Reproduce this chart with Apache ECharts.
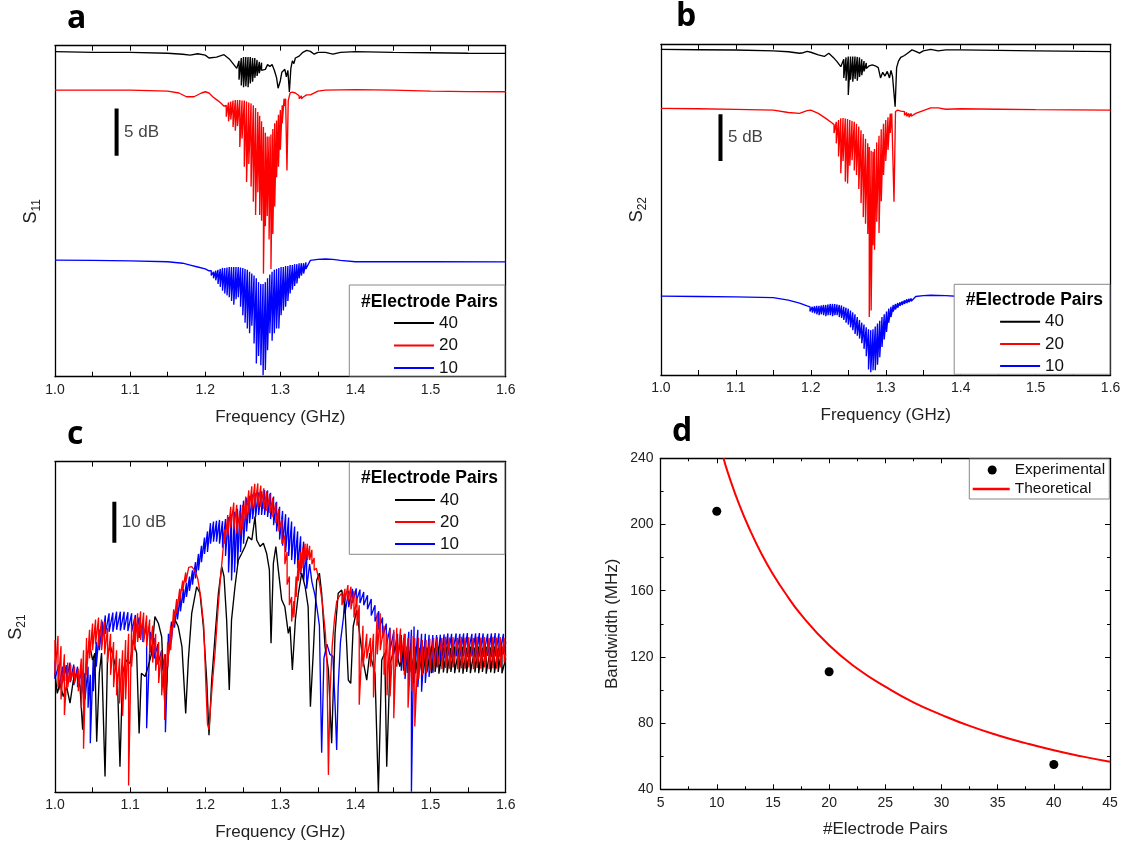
<!DOCTYPE html>
<html>
<head>
<meta charset="utf-8">
<script src="https://cdn.jsdelivr.net/npm/echarts@6/dist/echarts.min.js"></script>
<style>html,body{margin:0;padding:0;background:#fff}#chart{width:1125px;height:847px}</style>
</head>
<body>
<div id="chart"></div>
<script>
// ---------------- DATA (relative dB levels) ----------------
// entries: [freq GHz, level] or [freq GHz, ripple top, ripple bottom]
const seriesNames = ['40', '20', '10'];
const a40 = [[1.00,-0.63],[1.05,-0.7],[1.10,-0.7],[1.15,-0.8],[1.17,-0.9],[1.18,-1.0],[1.19,-0.85],[1.20,-1.0],[1.205,-1.3],[1.215,-1.2],[1.225,-0.95],[1.232,-1.4],[1.237,-1.9],[1.242,-2.4],
[1.245,-1.6,-3.6],[1.248,-1.3,-4.2],[1.251,-1.2,-4.4],[1.254,-1.2,-4.3],[1.257,-1.2,-4.4],[1.260,-1.2,-4.0],[1.263,-1.3,-3.8],[1.266,-1.3,-3.4],[1.269,-1.5,-3.2],[1.272,-1.7,-2.9],[1.275,-1.8,-2.6],
[1.28,-2.5],[1.283,-2.0],[1.286,-2.2],[1.289,-2.0],[1.292,-2.6],[1.295,-3.4],[1.297,-4.5],[1.300,-3.7],[1.302,-2.8],[1.304,-3.0],[1.306,-2.5],[1.308,-3.3],[1.310,-2.6],[1.312,-4.9],[1.314,-2.4],[1.316,-1.6],[1.318,-1.9],[1.32,-1.3],[1.325,-1.1],[1.33,-0.7],[1.335,-0.5],[1.34,-0.6],[1.345,-0.9],[1.35,-0.7],[1.36,-0.7],[1.37,-0.9],[1.38,-0.7],[1.40,-0.63],[1.45,-0.7],[1.50,-0.75],[1.55,-0.8],[1.60,-0.81]];
const a20 = [[1.00,-4.69],[1.05,-4.7],[1.10,-4.69],[1.15,-4.8],[1.165,-5.0],[1.175,-5.4],[1.185,-5.4],[1.195,-5.0],[1.20,-4.87],[1.205,-5.0],[1.21,-5.4],[1.215,-5.7],[1.22,-6.0],[1.225,-6.4],
[1.228,-6.3,-7.5],[1.231,-6.0,-8.0],[1.234,-5.9,-7.8],[1.237,-5.8,-8.6],[1.240,-5.75,-9.0],[1.243,-5.75,-8.5],[1.246,-5.75,-10.7],[1.249,-5.8,-9.8],[1.252,-5.8,-12.8],[1.255,-5.9,-14.4],[1.258,-6.0,-12.5],[1.261,-6.1,-14.9],[1.264,-6.3,-16.5],[1.267,-6.6,-17.9],[1.270,-7.0,-15.5],[1.2725,-7.4,-17.9],[1.275,-8.0,-18.5],[1.2775,-8.6,-24.1],[1.280,-9.2,-19.1],[1.2825,-9.6,-18.0],[1.285,-9.6,-20.5],[1.2875,-9.4,-23.6],[1.290,-8.8,-19.9],[1.2925,-8.2,-17.0],[1.295,-7.9,-13.9],[1.2975,-7.3,-12.8],[1.300,-6.8,-11.0],[1.3025,-6.3,-8.2],[1.305,-5.6,-6.4],
[1.307,-5.6],[1.3088,-13.2],[1.3105,-5.8],[1.313,-5.0],[1.316,-4.9],[1.32,-5.0],[1.325,-5.3,-5.6],[1.328,-5.3,-5.6],[1.331,-5.4,-5.6],[1.335,-5.2],[1.34,-5.2],[1.35,-4.8],[1.36,-4.7],[1.40,-4.65],[1.45,-4.7],[1.50,-4.8],[1.55,-4.85],[1.60,-4.87]];
const a10 = [[1.00,-22.68],[1.05,-22.7],[1.10,-22.75],[1.15,-22.85],[1.17,-23.0],[1.18,-23.2],[1.19,-23.4],[1.20,-23.6],[1.205,-23.8],
[1.208,-23.8,-24.3],[1.211,-23.9,-24.6],[1.214,-23.8,-24.8],[1.217,-23.7,-25.2],[1.220,-23.6,-25.5],[1.223,-23.5,-25.9],[1.226,-23.5,-26.2],[1.229,-23.45,-26.4],[1.232,-23.4,-26.6],[1.235,-23.4,-27.0],[1.238,-23.4,-27.4],[1.241,-23.4,-26.8],[1.244,-23.4,-26.6],[1.247,-23.45,-27.6],[1.250,-23.5,-28.5],[1.253,-23.6,-29.3],[1.256,-23.7,-29.9],[1.259,-23.9,-30.4],[1.262,-24.1,-29.6],[1.265,-24.3,-31.5],[1.268,-24.6,-33.6],[1.271,-25.0,-32.8],[1.274,-25.2,-33.8],[1.277,-25.2,-34.85],[1.280,-25.0,-34.3],[1.283,-24.6,-32.2],[1.286,-24.2,-30.4],[1.289,-23.9,-31.2],[1.292,-23.7,-30.4],[1.295,-23.6,-29.9],[1.298,-23.5,-29.9],[1.301,-23.4,-28.5],[1.304,-23.4,-28.0],[1.307,-23.3,-27.6],[1.310,-23.3,-27.0],[1.313,-23.2,-26.2],[1.316,-23.2,-25.8],[1.319,-23.1,-25.4],[1.322,-23.1,-25.15],[1.325,-23.0,-24.6],[1.328,-23.0,-24.3],[1.331,-23.0,-24.1],[1.334,-22.9,-23.6],
[1.34,-22.7],[1.35,-22.6],[1.36,-22.55],[1.37,-22.6],[1.38,-22.7],[1.40,-22.85],[1.45,-22.85],[1.50,-22.85],[1.60,-22.86]];

const b40 = [[1.00,-0.54],[1.05,-0.58],[1.10,-0.61],[1.15,-0.71],[1.17,-0.8],[1.185,-0.96],[1.19,-0.9],[1.195,-0.75],[1.20,-0.85],[1.21,-1.14],[1.218,-1.3],[1.224,-0.96],[1.23,-1.4],[1.235,-1.86],[1.24,-2.4],
[1.244,-1.6,-3.6],[1.247,-1.4,-3.9],[1.250,-1.3,-5.43],[1.253,-1.3,-3.8],[1.256,-1.3,-4.0],[1.259,-1.3,-3.7],[1.262,-1.35,-3.9],[1.265,-1.4,-3.5],[1.268,-1.6,-3.3],[1.271,-1.8,-2.9],[1.274,-2.0,-2.6],
[1.278,-2.3],[1.282,-2.2],[1.286,-2.3],[1.29,-2.5],[1.293,-3.6],[1.296,-3.0],[1.299,-3.4],[1.302,-2.9],[1.305,-3.6],[1.307,-2.8],[1.309,-3.4],[1.3125,-6.68],[1.3145,-2.5],[1.317,-1.8],[1.32,-1.4],[1.325,-1.2],[1.33,-0.9],[1.335,-0.6],[1.34,-0.75],[1.345,-0.95],[1.35,-0.7],[1.36,-0.55],[1.37,-0.7],[1.38,-0.6],[1.40,-0.6],[1.50,-0.7],[1.60,-0.79]];
const b20 = [[1.00,-6.86],[1.05,-6.9],[1.10,-6.96],[1.15,-7.04],[1.17,-7.3],[1.185,-7.39],[1.195,-7.1],[1.20,-7.04],[1.21,-7.39],[1.22,-7.93],[1.228,-8.4],
[1.231,-8.6,-9.5],[1.234,-8.3,-10.6],[1.237,-8.1,-12.0],[1.240,-7.93,-13.8],[1.243,-7.9,-12.5],[1.246,-7.93,-14.7],[1.249,-8.0,-14.9],[1.252,-8.1,-13.0],[1.255,-8.2,-12.4],[1.258,-8.3,-13.5],[1.261,-8.5,-14.0],[1.264,-8.8,-15.5],[1.267,-9.2,-17.0],[1.270,-9.6,-18.5],[1.273,-10.1,-19.2],[1.276,-10.6,-20.3],[1.278,-11.0,-29.2],[1.2805,-11.4,-28.5],[1.283,-11.5,-21.5],[1.285,-11.2,-22.0],[1.288,-10.5,-19.0],[1.291,-9.8,-20.2],[1.294,-9.1,-16.8],[1.297,-8.5,-14.0],[1.300,-8.1,-12.5],[1.303,-7.8,-11.3],[1.306,-7.4,-9.5],
[1.308,-7.4],[1.311,-16.86],[1.313,-7.2],[1.316,-7.04],[1.32,-7.15],[1.325,-7.2,-7.6],[1.328,-7.3,-7.7],[1.331,-7.4,-7.8],[1.334,-7.4,-7.7],[1.34,-7.4],[1.35,-7.1],[1.36,-6.8],[1.37,-6.8],[1.38,-6.95],[1.40,-6.9],[1.45,-6.95],[1.50,-7.0],[1.60,-7.04]];
const b10 = [[1.00,-26.96],[1.05,-27.0],[1.10,-27.04],[1.15,-27.11],[1.17,-27.39],[1.185,-27.7],[1.195,-28.0],
[1.199,-28.1,-28.6],[1.202,-28.1,-28.7],[1.205,-28.05,-28.8],[1.208,-28.0,-28.9],[1.211,-28.0,-29.0],[1.214,-27.95,-28.9],[1.217,-27.9,-29.0],[1.220,-27.9,-29.1],[1.223,-27.85,-29.0],[1.226,-27.8,-29.0],[1.229,-27.8,-29.1],[1.232,-27.8,-29.0],[1.235,-27.85,-29.0],[1.238,-27.9,-29.2],[1.241,-27.95,-29.3],[1.244,-28.1,-29.5],[1.247,-28.2,-29.8],[1.250,-28.3,-30.0],[1.253,-28.5,-30.3],[1.256,-28.7,-30.6],[1.259,-28.9,-31.0],[1.262,-29.2,-31.2],[1.265,-29.5,-31.5],[1.268,-29.8,-32.0],[1.271,-30.0,-32.6],[1.274,-30.3,-33.4],[1.277,-30.5,-34.8],[1.280,-30.6,-35.1],[1.283,-30.5,-34.9],[1.286,-30.2,-34.9],[1.289,-29.9,-34.3],[1.292,-29.6,-33.5],[1.295,-29.2,-32.4],[1.298,-28.9,-31.6],[1.301,-28.6,-30.8],[1.304,-28.3,-29.8],[1.307,-28.1,-29.2],[1.310,-27.9,-28.6],[1.313,-27.8,-28.4],[1.316,-27.7,-28.2],[1.319,-27.6,-28.0],[1.322,-27.5,-27.9],[1.325,-27.4,-27.8],[1.328,-27.3,-27.7],[1.331,-27.25,-27.6],[1.334,-27.2,-27.5],
[1.34,-27.0],[1.35,-26.9],[1.36,-26.86],[1.38,-26.9],[1.40,-27.0],[1.50,-27.04],[1.60,-27.04]];

const c40 = [[1.000,-51.6],[1.003,-56.5],[1.0067,-54.1],[1.011,-57.3],[1.0155,-54.9],[1.020,-58.9],[1.0244,-53.3],[1.029,-51.6],[1.0333,-54.9],[1.0368,-65.4],[1.040,-53.3],[1.043,-46.7],[1.0466,-45.1],[1.050,-48.4],[1.053,-46.7],[1.0555,-68.3],[1.059,-51.6],[1.062,-46.7],[1.0666,-76.8],[1.070,-46.7],[1.074,-45.1],[1.0786,-48.4],[1.083,-52.4],[1.0865,-74.4],[1.090,-51.6],[1.0945,-48.4],[1.100,-49.2],[1.104,-43.5],[1.1087,-46.7],[1.112,-66.3],[1.115,-51.6],[1.120,-52.4],[1.124,-50.0],[1.1287,-46.7],[1.133,-37.8],[1.1376,-39.4],[1.142,-42.7],[1.1465,-60.6],[1.151,-46.7],[1.155,-40.2],[1.160,-38.6],[1.164,-40.2],[1.169,-45.1],[1.174,-61.4],[1.1775,-48.4],[1.182,-37.0],[1.1886,-30.5],[1.193,-32.1],[1.1975,-40.2],[1.202,-53.3],[1.205,-66.7],[1.2086,-53.3],[1.213,-42.7],[1.2175,-32.1],[1.222,-25.6],[1.225,-28.0],[1.2285,-38.6],[1.232,-55.7],[1.235,-38.6],[1.2396,-30.5],[1.244,-24.0],[1.2485,-22.4],[1.253,-20.7],[1.2574,-18.3],[1.262,-19.1],[1.2663,-13.4],[1.2685,-19.1],[1.273,-20.7],[1.2774,-19.9],[1.2818,-22.4],[1.2854,-26.4],[1.2876,-44.3],[1.2907,-24.8],[1.294,-20.7],[1.2973,-26.4],[1.3018,-33.7],[1.306,-35.4],[1.3106,-41.9],[1.3129,-40.2],[1.316,-50.8],[1.320,-38.6],[1.324,-32.1],[1.3284,-27.2],[1.333,-30.5],[1.337,-35.4],[1.340,-59.8],[1.344,-45.9],[1.3484,-28.9],[1.352,-27.2],[1.355,-32.1],[1.3595,-45.1],[1.364,-50.8],[1.3683,-68.7],[1.3728,-41.9],[1.377,-32.1],[1.3817,-31.3],[1.386,-35.4],[1.3905,-53.3],[1.3937,-54.1],[1.397,-40.2],[1.4016,-36.2],[1.406,-42.7],[1.410,-48.4],[1.415,-53.3],[1.419,-46.7],[1.426,-51.6],[1.4305,-80.65],[1.435,-48.4],[1.439,-46.7],[1.4416,-74.4],[1.446,-49.2],[1.4527,-45.1],[1.459,-50.0],
[1.464,-45.5,-51.0],[1.469,-45.0,-51.5],[1.474,-45.3,-51.2],[1.480,-45.1,-51.6],[1.485,-45.4,-51.3],[1.490,-45.1,-51.6],[1.495,-45.3,-51.4],[1.501,-45.1,-51.6],[1.506,-45.4,-51.3],[1.511,-45.1,-51.7],[1.517,-45.3,-51.4],[1.522,-45.1,-51.6],[1.527,-45.4,-51.3],[1.532,-45.1,-51.6],[1.538,-45.3,-51.4],[1.543,-45.1,-51.7],[1.548,-45.4,-51.3],[1.553,-45.1,-51.6],[1.559,-45.3,-51.4],[1.564,-45.1,-51.6],[1.569,-45.4,-51.3],[1.574,-45.1,-51.7],[1.580,-45.3,-51.4],[1.585,-45.1,-51.6],[1.590,-45.4,-51.3],[1.595,-45.1,-51.6],[1.600,-48.0]];
const c20 = [[1.000,-43.5,-52.0],[1.004,-42.5,-55.0],[1.008,-45.0,-58.0],[1.0125,-47.0,-61.8],[1.017,-49.0,-55.0],[1.021,-49.5,-53.5],[1.026,-50.0,-54.0],[1.031,-50.5,-56.0],[1.035,-48.0,-60.0],[1.038,-46.0,-70.0],[1.042,-43.0,-52.0],[1.046,-41.0,-48.0],[1.050,-39.5,-46.0],[1.054,-38.5,-44.5],[1.058,-38.0,-45.0],[1.062,-38.5,-46.0],[1.066,-39.0,-47.0],[1.070,-40.5,-49.0],[1.074,-42.0,-52.0],[1.078,-44.0,-55.0],[1.082,-46.0,-57.0],[1.086,-48.0,-59.0],[1.090,-46.0,-62.0],[1.094,-43.5,-58.0],[1.098,-42.0,-79.0],[1.102,-40.0,-50.0],[1.106,-38.0,-46.0],[1.110,-37.0,-44.0],[1.114,-36.5,-43.5],[1.118,-36.8,-44.0],[1.122,-37.5,-45.0],[1.126,-38.5,-47.0],[1.130,-40.0,-49.0],[1.134,-42.0,-51.0],[1.138,-44.0,-54.0],[1.142,-46.0,-57.0],[1.146,-47.0,-63.0],[1.150,-44.0,-50.0],[1.154,-40.0,-46.0],[1.158,-36.0,-40.0],[1.162,-33.5,-37.0],[1.166,-31.0,-34.0],[1.170,-29.0,-31.5],[1.174,-27.0,-29.5],
[1.178,-25.8],[1.182,-25.6],[1.186,-26.5],[1.190,-28.5],[1.194,-33.0],[1.198,-40.0],[1.201,-55.0],[1.203,-64.0],[1.205,-65.4],[1.207,-60.0],[1.210,-53.0],[1.213,-46.7],[1.217,-36.0],[1.220,-29.0],[1.223,-23.0],
[1.226,-16.5,-20.0],[1.230,-13.0,-18.0],[1.234,-11.0,-16.0],[1.238,-10.0,-16.5],[1.242,-10.5,-17.5],[1.246,-12.0,-18.0],[1.250,-10.5,-16.5],[1.254,-8.5,-14.0],[1.258,-7.0,-12.5],[1.262,-6.0,-11.5],[1.266,-5.4,-11.0],[1.270,-5.3,-11.0],[1.274,-5.8,-11.0],[1.278,-6.5,-11.5],[1.282,-7.2,-12.0],[1.286,-7.8,-12.5],[1.290,-8.8,-13.5],[1.294,-10.0,-15.0],[1.298,-11.5,-17.0],[1.302,-14.0,-20.0],[1.306,-18.0,-25.0],[1.309,-22.0,-30.0],[1.312,-28.0,-35.0],[1.315,-33.0,-39.0],[1.318,-34.0,-38.0],[1.321,-28.0,-33.0],[1.324,-24.0,-29.0],[1.327,-22.0,-27.0],[1.330,-21.0,-26.0],[1.333,-20.0,-24.5],[1.336,-20.0,-24.0],[1.339,-20.5,-24.0],[1.342,-21.5,-25.0],[1.345,-23.5,-26.5],
[1.348,-26.0],[1.352,-29.5],[1.356,-34.5],[1.360,-42.0],[1.362,-48.8],[1.364,-76.4],[1.366,-57.0],[1.369,-45.0],[1.372,-38.5],[1.375,-34.1],[1.378,-33.0],
[1.382,-32.0,-35.0],[1.386,-31.0,-34.0],[1.390,-30.1,-34.0],[1.394,-30.5,-36.0],[1.398,-31.5,-38.0],[1.402,-33.0,-40.0],[1.405,-35.0,-59.3],[1.410,-40.0,-50.0],[1.415,-42.0,-48.0],[1.420,-43.0,-50.0],[1.424,-42.0,-57.5],[1.429,-37.0,-47.0],[1.433,-37.0,-46.0],[1.438,-40.0,-52.0],[1.442,-42.0,-57.0],[1.446,-41.0,-57.3],[1.451,-41.0,-62.6],[1.455,-40.5,-50.0],[1.460,-40.7,-49.0],[1.465,-42.0,-52.0],[1.470,-43.0,-60.0],[1.475,-42.5,-56.0],[1.479,-43.0,-64.6],[1.484,-43.0,-53.0],[1.489,-43.5,-52.0],[1.494,-43.5,-51.5],[1.499,-43.2,-51.0],
[1.504,-43.0,-50.5],[1.509,-42.8,-50.2],[1.515,-43.0,-50.6],[1.520,-42.7,-50.3],[1.525,-42.9,-50.5],[1.530,-42.8,-50.2],[1.536,-43.0,-50.6],[1.541,-42.7,-50.4],[1.546,-42.9,-50.5],[1.551,-42.8,-50.2],[1.557,-43.0,-50.6],[1.562,-42.7,-50.3],[1.567,-42.9,-50.5],[1.572,-42.8,-50.2],[1.578,-43.0,-50.6],[1.583,-42.7,-50.4],[1.588,-42.9,-50.5],[1.593,-42.8,-50.2],[1.598,-43.0,-49.0],[1.600,-47.0]];
const c10 = [[1.000,-48.5,-53.0],[1.005,-49.5,-55.7],[1.010,-50.0,-54.0],[1.015,-49.6,-53.5],[1.020,-49.0,-53.8],[1.025,-49.5,-54.5],[1.030,-50.0,-55.0],[1.035,-51.0,-57.0],[1.040,-51.5,-58.0],[1.044,-50.0,-60.0],[1.047,-52.0,-68.7],[1.051,-47.5,-56.0],[1.055,-44.0,-50.0],[1.059,-41.0,-46.0],[1.063,-39.0,-43.0],[1.067,-37.5,-42.0],[1.072,-37.0,-41.5],[1.077,-36.8,-41.5],[1.082,-36.6,-41.0],[1.087,-36.6,-41.2],[1.092,-36.6,-41.0],[1.097,-36.7,-41.3],[1.102,-37.0,-41.5],[1.107,-37.4,-42.0],[1.112,-38.0,-43.0],[1.117,-39.0,-44.0],[1.122,-40.0,-65.0],[1.127,-41.5,-46.5],[1.132,-43.0,-48.0],[1.137,-44.5,-49.5],[1.142,-46.0,-51.0],[1.147,-47.0,-66.0],[1.151,-42.0,-47.0],[1.155,-39.0,-43.5],[1.159,-36.5,-40.5],[1.163,-34.5,-38.5],[1.167,-32.5,-36.5],[1.171,-31.0,-34.5],[1.175,-29.5,-33.0],[1.179,-28.0,-31.5],[1.183,-26.5,-30.0],[1.187,-24.5,-28.5],[1.191,-22.5,-26.5],[1.195,-20.5,-24.5],[1.199,-18.5,-22.5],[1.203,-17.0,-22.0],
[1.207,-15.0,-20.0],[1.211,-14.6,-19.5],[1.215,-14.4,-19.5],[1.219,-14.2,-20.0],[1.223,-14.5,-21.0],[1.227,-14.0,-23.0],[1.231,-13.5,-27.0],[1.235,-12.8,-29.0],[1.239,-12.2,-27.0],[1.243,-11.5,-25.0],[1.247,-10.5,-22.0],[1.251,-9.5,-20.0],[1.255,-8.8,-17.0],[1.259,-8.3,-15.0],[1.263,-8.0,-14.0],[1.267,-7.7,-13.5],[1.271,-7.5,-13.0],[1.275,-7.2,-13.0],[1.279,-6.9,-13.0],[1.283,-7.0,-13.5],[1.287,-7.6,-14.0],[1.291,-8.5,-15.5],[1.295,-9.8,-17.0],[1.299,-11.0,-19.0],[1.303,-12.0,-20.5],[1.307,-12.8,-22.0],[1.311,-13.6,-23.0],[1.315,-14.6,-24.0],[1.319,-15.8,-25.0],[1.323,-17.0,-26.0],[1.327,-18.2,-27.5],[1.331,-19.5,-29.0],[1.335,-21.5,-31.0],
[1.339,-25.0],[1.342,-29.3],[1.346,-32.5],[1.349,-36.0],[1.352,-40.0],[1.355,-71.0],[1.358,-48.0],[1.362,-44.5],[1.366,-47.0],[1.370,-47.5],[1.373,-60.0],[1.375,-70.3],[1.377,-55.0],[1.380,-44.0],[1.384,-38.0],
[1.386,-32.5,-37.0],[1.391,-31.5,-35.5],[1.396,-31.0,-34.5],[1.401,-30.9,-34.1],[1.406,-31.2,-34.5],[1.411,-31.8,-35.0],[1.416,-32.6,-36.0],[1.421,-33.5,-37.5],[1.426,-35.0,-39.0],[1.431,-36.5,-41.0],[1.436,-38.0,-43.0],[1.441,-39.5,-45.0],[1.446,-40.5,-46.0],[1.451,-41.5,-47.0],[1.456,-42.0,-48.5],[1.461,-42.3,-51.0],[1.466,-42.0,-53.0],[1.471,-41.5,-54.0],[1.4745,-41.0,-80.5],[1.478,-40.2,-54.0],[1.483,-41.0,-55.0],[1.488,-42.0,-56.1],[1.493,-42.0,-54.0],[1.498,-42.2,-52.5],[1.503,-42.3,-51.5],[1.508,-42.3,-50.0],[1.513,-42.2,-49.0],[1.518,-42.1,-48.0],
[1.523,-41.9,-47.5],[1.528,-42.0,-47.8],[1.534,-41.9,-47.5],[1.539,-42.0,-47.6],[1.544,-41.9,-47.4],[1.549,-41.8,-47.6],[1.555,-42.0,-47.5],[1.560,-41.9,-47.7],[1.565,-41.8,-47.5],[1.570,-41.9,-47.6],[1.576,-42.0,-47.4],[1.581,-41.9,-47.6],[1.586,-41.8,-47.5],[1.591,-41.9,-47.6],[1.597,-42.0,-47.0],[1.600,-44.0]];

// panel d
const dPairs = [10, 20, 40];
const dBandwidthExp = [208, 111, 55];
const dTheoPairs = [10.6, 11, 12, 13, 14, 15, 16, 17.5, 20, 22.5, 25, 27.5, 30, 32.5, 35, 37.5, 40, 42.5, 45];
const dTheoBW = [240, 231, 212, 196, 182, 170, 159.5, 145.5, 127, 113, 102, 92.5, 85, 78.3, 72.7, 67.9, 63.6, 59.9, 56.6];

// ---------------- BUILD ----------------
const FONT = 'Liberation Sans';
const COLORS = {'40': '#000000', '20': '#ff0000', '10': '#0000ff'};

function expand(arr) {
  const out = [];
  arr.forEach(p => {
    if (p.length === 3) { out.push([p[0], p[1]]); out.push([p[0], p[2]]); }
    else out.push(p);
  });
  return out;
}

const axisLineStyle = {color: '#000', width: 1.3};
function freqAxes(g) {
  const base = {gridIndex: g, type: 'value', min: 1.0, max: 1.6, interval: 0.1,
    splitLine: {show: false},
    axisLine: {show: true, onZero: false, lineStyle: axisLineStyle},
    axisTick: {show: true, inside: true, length: 5, lineStyle: {color: '#000', width: 1}},
    minorTick: {show: true, splitNumber: 2, length: 5, lineStyle: {color: '#000', width: 1}}};
  return [
    Object.assign({}, base, {position: 'bottom',
      axisLabel: {formatter: v => v.toFixed(1), fontSize: 14, color: '#222', margin: 6, fontFamily: FONT},
      name: 'Frequency (GHz)', nameLocation: 'middle', nameGap: 32,
      nameTextStyle: {fontSize: 17, color: '#222', fontFamily: FONT}}),
    Object.assign({}, base, {position: 'top', axisLabel: {show: false}})
  ];
}
function levelAxes(g, min, sub, gap) {
  const base = {gridIndex: g, type: 'value', min: min, max: 0, splitLine: {show: false},
    axisLine: {show: true, onZero: false, lineStyle: axisLineStyle},
    axisTick: {show: false}, axisLabel: {show: false}};
  return [
    Object.assign({}, base, {position: 'left', name: '{s|S}{sub|' + sub + '}', nameLocation: 'middle',
      nameRotate: 90, nameGap: gap,
      nameTextStyle: {rich: {
        s: {fontSize: 18, fontFamily: FONT, color: '#222', lineHeight: 24, verticalAlign: 'middle'},
        sub: {fontSize: 12, fontFamily: FONT, color: '#222', lineHeight: 13, verticalAlign: 'bottom'}}}}),
    Object.assign({}, base, {position: 'right'})
  ];
}

const grids = [
  {left: 55, top: 45.7, width: 450.7, height: 331},
  {left: 660.9, top: 44.3, width: 449.7, height: 330.7},
  {left: 55, top: 461.7, width: 450.7, height: 330.6},
  {left: 660.6, top: 458.3, width: 449.4, height: 331}
];

const dBase = {gridIndex: 3, type: 'value', splitLine: {show: false},
  axisLine: {show: true, onZero: false, lineStyle: axisLineStyle},
  axisTick: {show: true, inside: true, length: 5, lineStyle: {color: '#000'}},
  minorTick: {show: true, splitNumber: 2, length: 3, lineStyle: {color: '#000'}}};
const xAxes = [].concat(freqAxes(0), freqAxes(1), freqAxes(2), [
  Object.assign({}, dBase, {position: 'bottom', min: 5, max: 45, interval: 5,
    axisLabel: {fontSize: 14, color: '#222', margin: 7, fontFamily: FONT},
    name: '#Electrode Pairs', nameLocation: 'middle', nameGap: 32,
    nameTextStyle: {fontSize: 17, color: '#222', fontFamily: FONT}}),
  Object.assign({}, dBase, {position: 'top', min: 5, max: 45, interval: 5, axisLabel: {show: false}})
]);
const yAxes = [].concat(levelAxes(0, -35.0, '11', 12), levelAxes(1, -35.4, '22', 12), levelAxes(2, -80.65, '21', 27), [
  Object.assign({}, dBase, {position: 'left', min: 40, max: 240, interval: 40,
    axisLabel: {fontSize: 14, color: '#222', margin: 7, fontFamily: FONT},
    name: 'Bandwidth (MHz)', nameLocation: 'middle', nameRotate: 90, nameGap: 40,
    nameTextStyle: {fontSize: 17, color: '#222', fontFamily: FONT}}),
  Object.assign({}, dBase, {position: 'right', min: 40, max: 240, interval: 40, axisLabel: {show: false}})
]);

function traceSeries(name, data, axisIdx, z) {
  return {name: name, type: 'line', data: expand(data), xAxisIndex: axisIdx * 2, yAxisIndex: axisIdx * 2,
    showSymbol: false, symbol: 'none', color: COLORS[name], z: z,
    lineStyle: {width: 1.35, color: COLORS[name]}, emphasis: {disabled: true}, silent: true};
}
function scaleBar(axisIdx, f, top, len, text) {
  return [
    {name: 'scale', type: 'line', xAxisIndex: axisIdx * 2, yAxisIndex: axisIdx * 2,
      data: [[f, top], [f, top - len]], symbol: 'none', silent: true, z: 5,
      lineStyle: {width: 4, color: '#000', cap: 'butt'}, color: '#000'},
    {name: 'scaleLabel', type: 'scatter', xAxisIndex: axisIdx * 2, yAxisIndex: axisIdx * 2,
      data: [[f, top - len / 2]], symbolSize: 1, itemStyle: {color: 'rgba(0,0,0,0)'}, silent: true, z: 5,
      label: {show: true, position: 'right', distance: 7, formatter: text, fontSize: 17, color: '#111', fontFamily: FONT}}
  ];
}

const series = [
  traceSeries('40', a40, 0, 2), traceSeries('20', a20, 0, 3), traceSeries('10', a10, 0, 4),
  traceSeries('40', b40, 1, 2), traceSeries('20', b20, 1, 3), traceSeries('10', b10, 1, 4),
  traceSeries('10', c10, 2, 2), traceSeries('40', c40, 2, 3), traceSeries('20', c20, 2, 4)
].concat(
  scaleBar(0, 1.082, -6.63, 5, '5 dB'),
  scaleBar(1, 1.0795, -7.5, 5, '5 dB'),
  scaleBar(2, 1.079, -9.76, 10, '10 dB'),
  [
    {name: 'Theoretical', type: 'line', xAxisIndex: 6, yAxisIndex: 6, smooth: true,
      data: dTheoPairs.map((n, i) => [n, dTheoBW[i]]), symbol: 'none', showSymbol: false,
      color: '#ff0000', lineStyle: {width: 2, color: '#ff0000'}, z: 3},
    {name: 'Experimental', type: 'scatter', xAxisIndex: 6, yAxisIndex: 6,
      data: dPairs.map((n, i) => [n, dBandwidthExp[i]]), symbol: 'circle', symbolSize: 9,
      itemStyle: {color: '#000', opacity: 1}, z: 4}
  ]);

function pairLegend(left, top, gap) {
  return {left: left, top: top, padding: 0, orient: 'vertical', align: 'left', itemWidth: 40, itemHeight: 2, itemGap: gap,
    icon: 'rect', selectedMode: false, data: seriesNames.slice(), z: 60,
    textStyle: {fontSize: 17, lineHeight: 17, color: '#111', fontFamily: FONT}};
}
const legends = [
  pairLegend(394, 314.5, 5.5),
  pairLegend(1000.1, 313.2, 5.2),
  pairLegend(395, 491.5, 5),
  {left: 987.7, top: 462, padding: 0, orient: 'vertical', align: 'left', itemWidth: 35, itemHeight: 9,
    selectedMode: false, z: 60, icon: 'circle',
    data: ['Experimental'],
    textStyle: {fontSize: 15.5, lineHeight: 16, color: '#111', fontFamily: FONT}},
  {left: 972.7, top: 481, padding: 0, orient: 'vertical', align: 'left', itemWidth: 37, itemHeight: 2.5,
    selectedMode: false, z: 60, icon: 'rect', data: ['Theoretical'],
    textStyle: {fontSize: 15.5, lineHeight: 16, color: '#111', fontFamily: FONT}}
];

function box(x, y, w, h) {
  return {type: 'rect', z: 50, silent: true, shape: {x: x, y: y, width: w, height: h},
    style: {fill: '#fff', stroke: '#888', lineWidth: 1}};
}
function txt(t, x, y, font, align) {
  return {type: 'text', z: 55, silent: true,
    style: {text: t, x: x, y: y, font: font, fill: '#000', align: align || 'left', verticalAlign: 'middle',
      textAlign: align || 'left', textVerticalAlign: 'middle'}};
}
const titleFont = 'bold 17.5px "Liberation Sans"';
const letterFont = 'bold 32px "Open Sans"';
const graphics = [
  box(349.3, 285, 155.5, 91), txt('#Electrode Pairs', 429.5, 302, titleFont, 'center'),
  box(954.2, 284.3, 155.7, 90), txt('#Electrode Pairs', 1034.4, 300, titleFont, 'center'),
  box(349.3, 462.3, 155.5, 92), txt('#Electrode Pairs', 429.5, 478.3, titleFont, 'center'),
  box(969.3, 459, 140, 40),
  txt('a', 67, 19, letterFont), txt('b', 676, 17, letterFont),
  txt('c', 67, 435, letterFont), txt('d', 672, 432, letterFont)
];

const chart = echarts.init(document.getElementById('chart'), null, {renderer: 'canvas'});
chart.setOption({
  animation: false,
  backgroundColor: '#ffffff',
  grid: grids,
  xAxis: xAxes,
  yAxis: yAxes,
  legend: legends,
  graphic: graphics,
  series: series
});
</script>
</body>
</html>
